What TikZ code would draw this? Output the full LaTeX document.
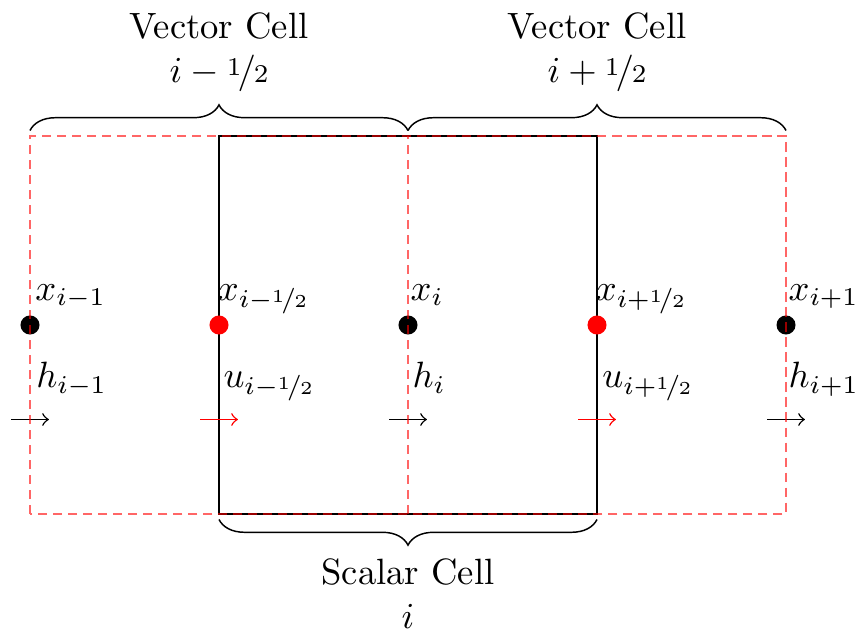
\documentclass[tikz,border=0pt]{standalone}
\usepackage{amsmath}
\usepackage{nicefrac}
\usetikzlibrary{decorations.pathreplacing,positioning}

\begin{document}
\begin{tikzpicture}[
  x=1.815cm, y=1.815cm,
  dot/.style={circle, fill=black, inner sep=0pt, minimum size=5.2pt},
  halfdot/.style={dot, fill=red},
  grid/.style={red, opacity=0.6, dash pattern=on 2.5pt off 1.6pt},
  cell/.style={draw, thick},
  brace/.style={decorate, decoration={brace, amplitude=7pt, raise=1.5pt}},
  flux/.style={->},
  lbl/.style={inner sep=0pt, anchor=base west},
  title/.style={align=center}
]
\useasboundingbox (-0.1587,-1.672) rectangle (4.365,1.7196);
% scalar cell
\draw[cell] (1,-1) rectangle (3,1);
% grid points
\foreach \k/\c in {0/dot,1/halfdot,2/dot,3/halfdot,4/dot}
  \node[\c] (p\k) at (\k,0) {};
% fluxes
\foreach \k/\c in {0/black,1/red,2/black,3/red,4/black}{
  \coordinate (a\k) at (\k-0.1,-0.5);
  \coordinate (b\k) at (\k+0.1,-0.5);
  \draw[flux, \c] (a\k) -- (b\k);
}
% labels
\node[lbl] (xl0) at (0.025,0.13) {$x_{i-1}$};
\node[lbl] (xl1) at (0.99,0.13) {$x_{i-\nicefrac{1}{2}}$};
\node[lbl] (xl2) at (2.01,0.13) {$x_{i}$};
\node[lbl] (xl3) at (2.99,0.13) {$x_{i+\nicefrac{1}{2}}$};
\node[lbl] (xl4) at (4.01,0.13) {$x_{i+1}$};
\node[lbl] (hl0) at (0.03,-0.333) {$h_{i-1}$};
\node[lbl] (hl1) at (1.02,-0.333) {$u_{i-\nicefrac{1}{2}}$};
\node[lbl] (hl2) at (2.02,-0.333) {$h_{i}$};
\node[lbl] (hl3) at (3.025,-0.333) {$u_{i+\nicefrac{1}{2}}$};
\node[lbl] (hl4) at (4.01,-0.333) {$h_{i+1}$};
% vector cells
\draw[grid] (0,-1) rectangle (4,1);
\draw[grid] (2,-1) -- (2,1);
% braces
\draw[brace] (0,1) -- (2,1) node[title, midway, above=8.5pt] (vl) {Vector Cell\\$i-\nicefrac{1}{2}$};
\draw[brace] (2,1) -- (4,1) node[title, midway, above=8.5pt] (vr) {Vector Cell\\$i+\nicefrac{1}{2}$};
\draw[brace] (3,-1) -- (1,-1) node[title, midway, below=8.7pt] (sc) {Scalar Cell\\$i$};
\end{tikzpicture}
\end{document}
